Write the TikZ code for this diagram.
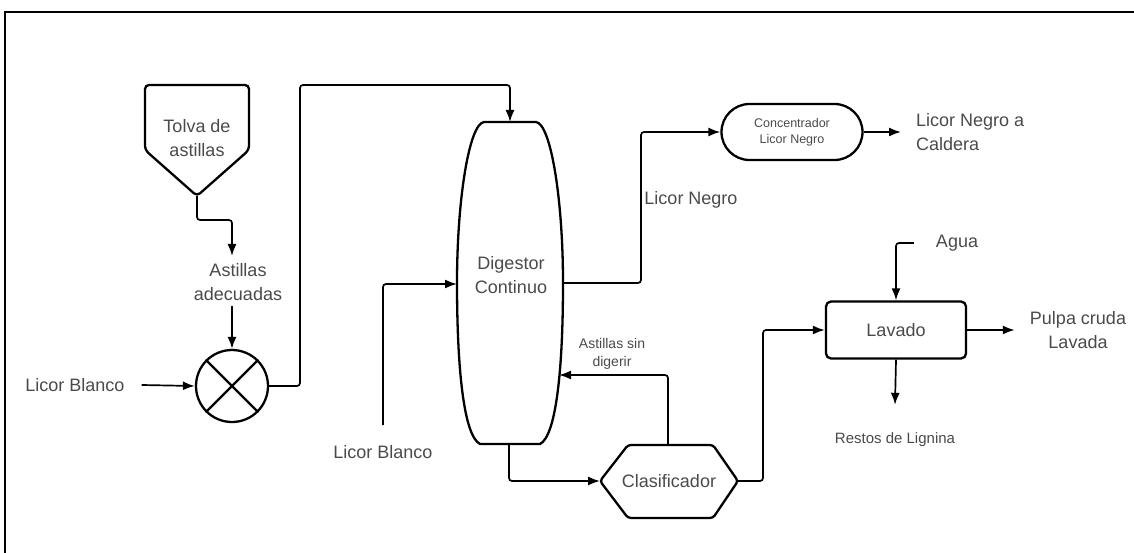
\documentclass[tikz,border=0pt]{standalone}
\usepackage{fontspec}
\setmainfont{Liberation Sans}
\usetikzlibrary{arrows.meta,shapes.geometric,shapes.misc}
\definecolor{txtgray}{HTML}{4A4A4A}
\begin{document}
\begin{tikzpicture}[x=1pt,y=-1pt,
  flow/.style={-{Latex[length=12pt,width=9pt]},line width=1.7pt,rounded corners=3pt},
  shp/.style={draw=black,line width=2.3pt},
  lbl/.style={text=txtgray,font=\fontsize{18}{24}\selectfont,align=center,inner sep=0pt},
  sml/.style={text=txtgray,font=\fontsize{14}{18}\selectfont,align=center,inner sep=0pt}]
\useasboundingbox (0,0) rectangle (1134,553);
\begin{scope}
  \clip (0,0) rectangle (1134,553);
  \draw[line width=2.8pt] (5,12) rectangle (1160,580);
\end{scope}

% Tolva
\draw[shp,rounded corners=4pt] (145,85) -- (249,85) -- (249,150) -- (197,196) -- (145,150) -- cycle;
\coordinate (ttip) at (197,196);
\node[lbl] (tolva) at (197,138) {Tolva de\\astillas};

% Astillas adecuadas
\node[lbl] (ast) at (238,282) {Astillas\\adecuadas};
\coordinate (astin) at (232,256);
\coordinate (astout) at (232,306);

% Mixer
\node[shp,circle,minimum size=72pt,inner sep=0pt] (mix) at (232,386) {};
\draw[line width=2.3pt] (mix.north west) -- (mix.south east);
\draw[line width=2.3pt] (mix.north east) -- (mix.south west);
\node[lbl] (lb1) at (75,385) {Licor Blanco};

% Digestor
\draw[shp] (484,122) -- (536,122) .. controls (551,124) and (563,200) .. (563,283)
  .. controls (563,370) and (556,436) .. (540,444) -- (480,444)
  .. controls (464,436) and (457,370) .. (457,283)
  .. controls (457,200) and (469,124) .. (484,122) -- cycle;
\node[lbl] (dig) at (511,275) {Digestor\\Continuo};
\coordinate (digtop) at (510,122);
\coordinate (digleft) at (457,284);
\coordinate (digright) at (563,283);
\coordinate (digbot) at (509,444);
\coordinate (digret) at (559,375);
\node[lbl] (lb2) at (383,452) {Licor Blanco};

% Concentrador
\node[shp,rounded rectangle,minimum width=141pt,minimum height=56pt,inner sep=0pt,
  sml,font=\fontsize{12.5}{16}\selectfont] (conc) at (792,132) {Concentrador\\Licor Negro};
\node[lbl] (ln) at (691,200) {Licor Negro};
\node[lbl,anchor=west,align=left] (cald) at (916,132) {Licor Negro a\\Caldera};

% Clasificador
\draw[shp,rounded corners=3pt] (600,481) -- (628,445) -- (713,445) -- (738,481) -- (713,518) -- (628,518) -- cycle;
\node[lbl] (clas) at (669,481) {Clasificador};
\coordinate (clasL) at (600,481);
\coordinate (clasT) at (668,445);
\coordinate (clasR) at (738,481);
\node[sml] (asd) at (612,354) {Astillas sin\\digerir};

% Lavado
\node[shp,rounded corners=5pt,minimum width=140pt,minimum height=57pt,lbl] (lav) at (896,330) {Lavado};
\node[lbl] (agua) at (957,243) {Agua};
\node[lbl] (pulpa) at (1078,330) {Pulpa cruda\\Lavada};
\node[sml,font=\fontsize{15}{18}\selectfont] (restos) at (895,440) {Restos de Lignina};

% Connectors
\draw[flow] (ttip) -- ++(0,24) -| (astin);
\draw[flow] (astout) -- (mix.north);
\draw[flow] ([xshift=17pt]lb1.east) -- (mix.west);
\draw[flow] (mix.east) -| (300,85) -| (digtop);
\draw[flow] ([yshift=20pt]lb2.north) |- (digleft);
\draw[flow] (digright) -- (641,283) |- (conc.west);
\draw[flow] (conc.east) -- ([xshift=-15pt]cald.west);
\draw[flow] (digbot) |- (clasL);
\draw[flow] (clasT) |- (digret);
\draw[flow] (clasR) -- (763,481) |- (lav.west);
\draw[flow] ([xshift=-22pt]agua.west) -| (lav.north);
\draw[flow] (lav.east) -- ([xshift=-15pt]pulpa.west);
\draw[flow] (lav.south) -- ([yshift=28pt]restos.north);
\end{tikzpicture}
\end{document}
